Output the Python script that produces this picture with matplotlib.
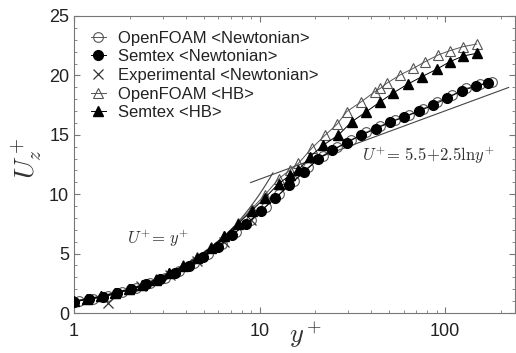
import matplotlib
matplotlib.use("Agg")
import matplotlib.pyplot as plt
import numpy as np

plt.rcParams["mathtext.fontset"] = "cm"
plt.rcParams["font.family"] = ["Liberation Sans", "DejaVu Sans"]

# Semtex <Newtonian> (filled circles)
yp_sem_n = [1.0, 1.2, 1.43, 1.71, 2.04, 2.44, 2.92, 3.49, 4.17, 4.98, 5.95, 7.1, 8.5,
            10.2, 12.1, 14.5, 17.3, 20.7, 24.7, 29.6, 35.3, 42.2, 50.5, 60.3, 72.0,
            86.0, 103.0, 123.0, 147.0, 170.0]
u_sem_n = [0.95, 1.15, 1.35, 1.68, 1.99, 2.41, 2.83, 3.39, 3.98, 4.74, 5.58, 6.57, 7.49,
           8.61, 9.65, 10.77, 11.85, 12.95, 13.7, 14.35, 14.97, 15.5, 16.05, 16.5, 16.97,
           17.5, 18.1, 18.7, 19.1, 19.35]

# OpenFOAM <Newtonian> (open circles)
yp_of_n = [1.06, 1.27, 1.52, 1.81, 2.16, 2.58, 3.09, 3.7, 4.42, 5.28, 6.3, 7.5, 9.0,
           10.8, 12.8, 15.3, 18.3, 21.9, 26.2, 31.3, 37.4, 44.7, 53.5, 64.0, 76.3,
           91.0, 109.0, 130.0, 155.0, 178.0]
u_of_n = [1.02, 1.22, 1.45, 1.78, 2.1, 2.52, 2.98, 3.55, 4.2, 4.95, 5.85, 6.85, 7.85,
          8.95, 10.0, 11.1, 12.25, 13.25, 13.95, 14.6, 15.2, 15.75, 16.25, 16.7, 17.2,
          17.8, 18.35, 18.9, 19.25, 19.45]

# Experimental <Newtonian>
yp_exp = [1.53, 2.3, 3.3, 4.6, 6.4, 9.0]
u_exp = [0.82, 2.25, 3.2, 4.4, 5.95, 7.85]

# OpenFOAM <HB> (open triangles)
yp_of_hb = [1.0, 1.18, 1.4, 1.66, 1.97, 2.33, 2.76, 3.27, 3.88, 4.6, 5.45, 6.45, 7.65,
            9.05, 10.7, 12.7, 14.6, 16.2, 19.1, 22.6, 26.2, 29.5, 35.4, 41.8, 44.8,
            48.4, 57.1, 67.5, 78.0, 91.8, 106.0, 125.0, 148.0]
u_of_hb = [1.0, 1.22, 1.42, 1.72, 2.02, 2.38, 2.85, 3.4, 4.0, 4.7, 5.55, 6.5, 7.6,
           8.75, 9.95, 11.3, 12.05, 12.6, 13.86, 14.98, 15.9, 16.95, 17.79, 18.63, 18.91,
           19.33, 20.03, 20.6, 21.15, 21.72, 22.08, 22.42, 22.64]

# Semtex <HB> (filled triangles)
yp_sem_hb = [1.0, 1.18, 1.4, 1.66, 1.97, 2.33, 2.76, 3.27, 3.88, 4.6, 5.45, 6.45, 7.65,
             9.05, 10.7, 12.7, 14.6, 16.2, 18.7, 22.1, 26.6, 31.4, 37.7, 44.8, 52.7,
             63.2, 74.9, 89.9, 106.0, 125.0, 148.0]
u_sem_hb = [0.97, 1.18, 1.4, 1.7, 2.0, 2.36, 2.82, 3.36, 3.95, 4.65, 5.5, 6.45, 7.5,
            8.6, 9.7, 10.9, 11.6, 12.04, 13.16, 14.14, 14.98, 16.1, 16.95, 17.79, 18.54,
            19.28, 19.89, 20.51, 21.15, 21.63, 21.86]

# ranges of the reference laws
visc_range = (1.0, 11.8)
log_range = (8.95, 220.0)

fig = plt.figure(figsize=(5.16, 3.53), dpi=100)
fig.patch.set_facecolor("white")
ax = fig.add_axes([0.1434, 0.1133, 0.8546, 0.8414])

gray = "#555555"
yv = np.geomspace(*visc_range, 60)
yl = np.geomspace(*log_range, 60)
ax.plot(yv, yv, color="#444444", lw=0.8, zorder=1)
ax.plot(yl, 5.5 + 2.5 * np.log(yl), color="#444444", lw=0.8, zorder=1)

ax.plot(yp_of_n, u_of_n, "-o", color=gray, mfc="none", mec=gray, ms=7, lw=0.7, mew=0.8,
        label="OpenFOAM <Newtonian>", zorder=2)
ax.plot(yp_sem_n, u_sem_n, "-o", color="black", mfc="black", mec="black", ms=7, lw=0.7,
        label="Semtex <Newtonian>", zorder=4)
ax.plot(yp_exp, u_exp, "x", color="#333333", ms=7, mew=0.9,
        label="Experimental <Newtonian>", zorder=3)
ax.plot(yp_of_hb, u_of_hb, "-^", color=gray, mfc="none", mec=gray, ms=7.5, lw=0.7, mew=0.8,
        label="OpenFOAM <HB>", zorder=2)
ax.plot(yp_sem_hb, u_sem_hb, "-^", color="black", mfc="black", mec="black", ms=7, lw=0.7,
        label="Semtex <HB>", zorder=4)

ax.set_xscale("log")
ax.set_xlim(1, 238)
ax.set_ylim(0, 25)
ax.set_yticks([0, 5, 10, 15, 20, 25])
ax.set_xticks([1, 10, 100])
ax.set_xticklabels(["1", "10", "100"])
ax.yaxis.set_minor_locator(matplotlib.ticker.MultipleLocator(1))
ax.tick_params(which="both", direction="in", top=True, right=True, colors="#777777",
               labelcolor="#222222", labelsize=13)
ax.tick_params(axis="x", which="major", pad=7)
ax.tick_params(which="major", length=4)
ax.tick_params(which="minor", length=2)
for s in ax.spines.values():
    s.set_color("#777777")
    s.set_linewidth(0.8)

ax.set_ylabel(r"$U_z^+$", fontsize=20, color="#333333")
ax.yaxis.set_label_coords(-0.068, 0.52)
ax.set_xlabel(r"$y^+$", fontsize=19, color="#333333")
ax.xaxis.set_label_coords(0.525, -0.022)

ax.text(1.93, 6.3, r"$U^{+}\!=\,y^{+}$", fontsize=12, color="#333333", va="center")
ax.text(35.6, 13.3, r"$U^{+}\!=\,5.5\!+\!2.5\mathrm{ln}y^{+}$", fontsize=12,
        color="#333333", va="center")

ax.legend(loc="upper left", bbox_to_anchor=(0.012, 0.99), frameon=False, fontsize=12,
          handlelength=0.9, handletextpad=0.7, labelspacing=0.22, borderaxespad=0.3,
          labelcolor="#222222")

fig.savefig("out.png", dpi=100, facecolor="white")
